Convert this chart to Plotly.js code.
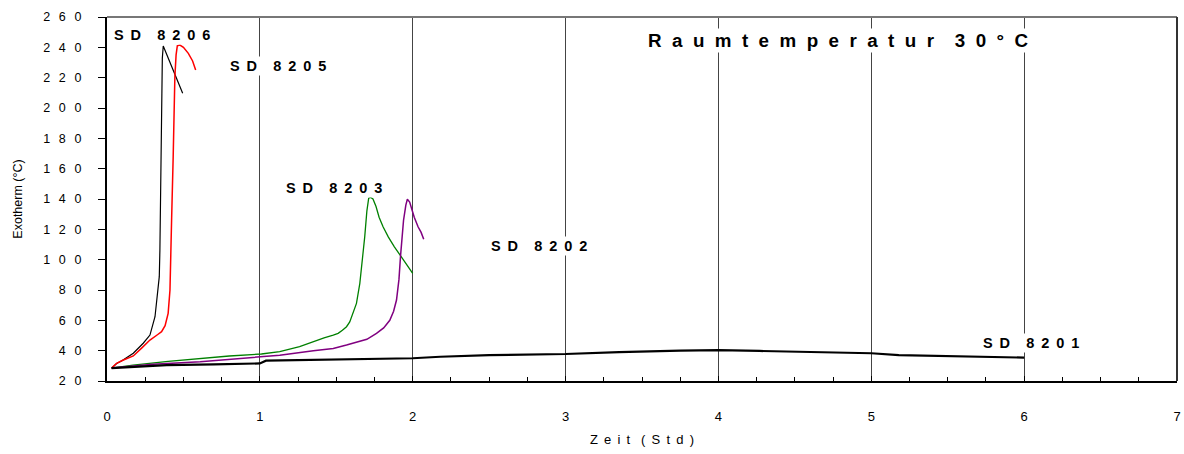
<!DOCTYPE html>
<html>
<head>
<meta charset="utf-8">
<script src="https://cdn.plot.ly/plotly-3.0.1.min.js"></script>
<style>html,body{margin:0;padding:0;background:#fff}#chart{width:1184px;height:454px}</style>
</head>
<body>
<div id="chart"></div>
<script>
// ---- data ----
const t8206 = [0.03, 0.063, 0.10, 0.172, 0.237, 0.281, 0.314, 0.329, 0.342, 0.346, 0.351, 0.357, 0.362, 0.368, 0.40, 0.43, 0.46, 0.495];
const T8206 = [28.5, 31.5, 33.5, 38.3, 44.9, 50.3, 62.4, 75.6, 88.8, 106, 150, 200, 233, 240.9, 233, 225.5, 217.5, 209.7];

const t8205 = [0.03, 0.063, 0.10, 0.172, 0.23, 0.281, 0.33, 0.357, 0.38, 0.40, 0.412, 0.418, 0.423, 0.433, 0.438, 0.444, 0.452, 0.46, 0.477, 0.50, 0.532, 0.56, 0.58];
const T8205 = [28.5, 31.7, 33.5, 36.5, 42, 47, 50.5, 52.5, 56.5, 64.6, 80, 100, 128, 168, 200, 220.6, 235, 241, 241.5, 240, 236, 231, 225];

const t8203 = [0.03, 0.17, 0.40, 0.61, 0.80, 1.01, 1.13, 1.26, 1.35, 1.42, 1.48, 1.512, 1.54, 1.567, 1.588, 1.61, 1.632, 1.654, 1.67, 1.686, 1.70, 1.712, 1.725, 1.74, 1.76, 1.78, 1.806, 1.84, 1.88, 1.91, 1.937, 1.97, 2.0];
const T8203 = [28.5, 30.5, 33, 35, 36.5, 37.8, 39.3, 42.6, 46, 48.5, 50.3, 51.4, 53.5, 55.8, 59, 64.6, 71.2, 84.4, 98, 115, 132, 140.5, 141, 140, 135, 128, 121.7, 115, 108.5, 104, 99.8, 95, 91];

const t8202 = [0.03, 0.30, 0.61, 1.01, 1.13, 1.35, 1.48, 1.567, 1.70, 1.763, 1.81, 1.85, 1.875, 1.894, 1.91, 1.92, 1.93, 1.94, 1.955, 1.965, 1.98, 1.995, 2.01, 2.035, 2.055, 2.072];
const T8202 = [28.5, 31, 32.7, 36, 37, 40, 41.5, 43.7, 47.5, 51.4, 55, 60, 66, 73.4, 87, 102, 115, 126, 136, 139.8, 138, 133, 128, 121.7, 118, 113.4];

const t8201 = [0.03, 0.2, 0.39, 0.7, 1.0, 1.04, 1.3, 1.52, 1.915, 2.0, 2.18, 2.5, 3.0, 3.35, 3.75, 4.0, 4.27, 4.53, 5.0, 5.18, 5.58, 5.84, 6.0];
const T8201 = [28.5, 29.5, 30.5, 31, 31.6, 33.4, 33.8, 34.3, 34.5, 35, 36, 37.1, 37.8, 39.1, 40, 40.4, 39.8, 39.1, 38.3, 37.1, 36.5, 36, 35.4];

const yTickVals = [20, 40, 60, 80, 100, 120, 140, 160, 180, 200, 220, 240, 260];
const xTickVals = [0, 1, 2, 3, 4, 5, 6, 7];

const labelNames = ['SD 8206', 'SD 8205', 'SD 8203', 'SD 8202', 'SD 8201'];
const labelX = [0.36, 1.118, 1.484, 2.824, 6.046];
const labelY = [248.1, 227.7, 147.3, 109, 45];
const titleText = 'Raumtemperatur 30°C';
const xTitle = 'Zeit (Std)';
const yTitle = 'Exotherm (°C)';

// ---- helpers for the letter-spaced look ----
function spread(s, sep, wordSep) {
  return s.split(' ').map(w => Array.from(w).join(sep)).join(wordSep);
}
const NB = '\u00A0';

const FONT = 'Liberation Sans, Arial, sans-serif';

const traces = [
  {x: t8206, y: T8206, mode: 'lines', line: {color: '#000000', width: 1.2}, name: 'SD 8206'},
  {x: t8205, y: T8205, mode: 'lines', line: {color: '#ff0000', width: 1.5}, name: 'SD 8205'},
  {x: t8203, y: T8203, mode: 'lines', line: {color: '#008000', width: 1.3}, name: 'SD 8203'},
  {x: t8202, y: T8202, mode: 'lines', line: {color: '#800080', width: 1.5}, name: 'SD 8202'},
  {x: t8201, y: T8201, mode: 'lines', line: {color: '#000000', width: 2.2}, name: 'SD 8201'}
];

const annotations = labelNames.map((n, i) => ({
  x: labelX[i], y: labelY[i], xref: 'x', yref: 'y', showarrow: false,
  text: spread(n, NB + '\u2009', NB + NB + NB + NB),
  font: {family: FONT, size: 14.5, color: '#000', weight: 'bold'},
  bgcolor: '#ffffff', borderpad: 1
}));
annotations.push({
  x: 4.784, y: 244.8, xref: 'x', yref: 'y', showarrow: false,
  text: spread(titleText, NB + NB, NB + NB + NB + NB),
  font: {family: FONT, size: 18.8, color: '#000', weight: 'bold'},
  bgcolor: '#ffffff', borderpad: 1
});

const layout = {
  width: 1184, height: 454,
  margin: {l: 107, r: 7, t: 17, b: 73},
  paper_bgcolor: '#ffffff', plot_bgcolor: '#ffffff',
  showlegend: false,
  font: {family: FONT, size: 12, color: '#000'},
  xaxis: {
    range: [0, 7], tickvals: xTickVals, ticktext: xTickVals.map(String),
    ticks: 'inside', ticklen: 5, tickcolor: '#000', tickwidth: 1,
    showgrid: true, gridcolor: '#444', gridwidth: 1,
    showline: true, linecolor: '#000', linewidth: 2,
    zeroline: false, ticklabelstandoff: 22,
    minor: {dtick: 0.25, ticks: 'inside', ticklen: 4, tickcolor: '#000', showgrid: false},
    tickfont: {size: 13, color: '#000'},
    title: {text: spread(xTitle, NB + '\u2009', NB + NB + NB), font: {size: 13, color: '#000'}, standoff: 12}
  },
  yaxis: {
    range: [20, 260], tickvals: yTickVals,
    ticktext: yTickVals.map(v => Array.from(String(v)).join('\u2002\u2009')),
    ticks: 'outside', ticklen: 7, tickcolor: '#000', tickwidth: 1,
    showgrid: false, showline: true, linecolor: '#000', linewidth: 2,
    zeroline: false, ticklabelstandoff: 14,
    tickfont: {size: 12.5, color: '#000'},
    title: {text: yTitle, font: {size: 12.5, color: '#000'}, standoff: 18}
  },
  shapes: [
    {type: 'line', xref: 'paper', yref: 'paper', x0: 0, x1: 1, y0: 1, y1: 1, line: {color: '#777', width: 2}},
    {type: 'line', xref: 'paper', yref: 'paper', x0: 1, x1: 1, y0: 0, y1: 1, line: {color: '#333', width: 2}}
  ],
  annotations: annotations
};

Plotly.newPlot('chart', traces, layout, {displayModeBar: false, staticPlot: true});
</script>
</body>
</html>
